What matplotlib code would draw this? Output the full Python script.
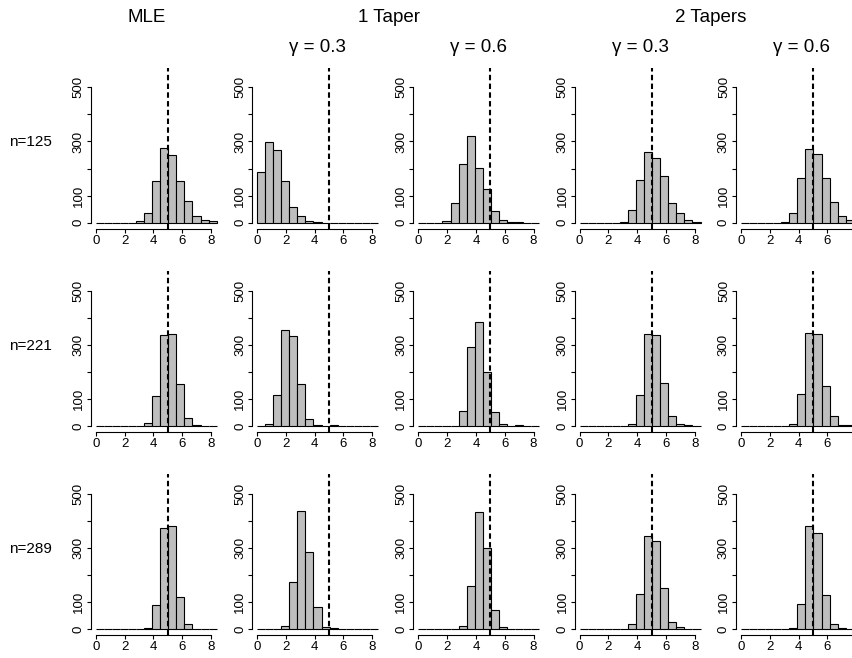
import numpy as np
import matplotlib.pyplot as plt

plt.rcParams['font.family'] = ['Liberation Sans', 'DejaVu Sans']

# histogram breaks: 15 bins from 0 to 8.4
breaks = np.linspace(0, 8.4, 16)
true_value = 5

group_titles = ['MLE', '1 Taper', '2 Tapers']
col_titles = ['', 'γ = 0.3', 'γ = 0.6', 'γ = 0.3', 'γ = 0.6']
row_labels = ['n=125', 'n=221', 'n=289']
x_ticks = [0, 2, 4, 6, 8]
y_ticks = [0, 100, 200, 300, 400, 500]
y_ticklabels = ['0', '100', '', '300', '', '500']

# counts per bin, one list per panel
mle_125  = [0, 0, 0, 0, 0, 5, 36, 154, 277, 249, 155, 79, 23, 10, 5]
t1g3_125 = [186, 297, 270, 155, 57, 25, 8, 2, 0, 0, 0, 0, 0, 0, 0]
t1g6_125 = [0, 0, 0, 6, 73, 218, 321, 201, 126, 42, 11, 4, 1, 0, 0]
t2g3_125 = [0, 0, 0, 0, 0, 4, 46, 156, 262, 240, 171, 73, 37, 10, 2]
t2g6_125 = [0, 0, 0, 0, 0, 4, 37, 164, 271, 254, 164, 75, 26, 9, 2]

mle_221  = [0, 0, 0, 0, 0, 0, 9, 112, 335, 340, 156, 29, 4, 1, 0]
t1g3_221 = [0, 6, 115, 355, 332, 155, 26, 4, 0, 2, 0, 0, 0, 0, 0]
t1g6_221 = [0, 0, 0, 0, 0, 55, 291, 385, 199, 52, 6, 1, 2, 0, 0]
t2g3_221 = [0, 0, 0, 0, 0, 0, 6, 114, 340, 334, 160, 36, 6, 2, 0]
t2g6_221 = [0, 0, 0, 0, 0, 0, 6, 117, 344, 339, 149, 36, 5, 2, 0]

mle_289  = [0, 0, 0, 0, 0, 0, 5, 88, 375, 382, 117, 18, 2, 0, 0]
t1g3_289 = [0, 0, 0, 12, 173, 436, 285, 81, 6, 4, 0, 0, 0, 0, 0]
t1g6_289 = [0, 0, 0, 0, 0, 10, 161, 434, 300, 70, 6, 2, 0, 0, 0]
t2g3_289 = [0, 0, 0, 0, 0, 0, 18, 131, 345, 324, 150, 28, 6, 1, 2]
t2g6_289 = [0, 0, 0, 0, 0, 0, 4, 93, 382, 355, 127, 18, 4, 0, 0]

panels = [
    [mle_125, t1g3_125, t1g6_125, t2g3_125, t2g6_125],
    [mle_221, t1g3_221, t1g6_221, t2g3_221, t2g6_221],
    [mle_289, t1g3_289, t1g6_289, t2g3_289, t2g6_289],
]

W, H = 852, 658
fig = plt.figure(figsize=(W / 100, H / 100), dpi=100)

xlim = (-0.336, 8.736)
ylim = (-22, 572)
xs, ys = 14.4, 0.2707          # pixels per data unit
x0, dx = 95.7, 161.3           # x=0 of first column, column step
y0, dy = 222.7, 203.2          # y=0 of first row, row step

for r in range(3):
    for c in range(5):
        left = x0 + dx * c + xlim[0] * xs
        top = y0 + dy * r - ylim[1] * ys
        w = (xlim[1] - xlim[0]) * xs
        h = (ylim[1] - ylim[0]) * ys
        ax = fig.add_axes([left / W, 1 - (top + h) / H, w / W, h / H])
        ax.bar(breaks[:-1], panels[r][c], width=np.diff(breaks), align='edge',
               color='#bebebe', edgecolor='black', linewidth=0.8)
        ax.axvline(true_value, color='black', lw=1.5, linestyle=(0, (2.6, 1.6)))
        ax.set_xlim(xlim)
        ax.set_ylim(ylim)
        ax.set_xticks(x_ticks)
        if c == 4:
            # right-most column is cut by the page edge, last label not shown
            ax.set_xticklabels([str(v) for v in x_ticks[:-1]] + [''])
        ax.set_yticks(y_ticks)
        ax.set_yticklabels(y_ticklabels)
        for s in ['top', 'right']:
            ax.spines[s].set_visible(False)
        ax.spines['bottom'].set_bounds(0, 8)
        ax.spines['left'].set_bounds(0, 500)
        for s in ['bottom', 'left']:
            ax.spines[s].set_linewidth(0.8)
        ax.tick_params(direction='out', length=2.9, width=0.8, labelsize=9.5, pad=1.5)
        ax.tick_params(axis='y', labelrotation=90)
        for lab in ax.get_yticklabels():
            lab.set_va('center')
        if r == 0 and col_titles[c]:
            fig.text((x0 + dx * c + 4.2 * xs) / W, 1 - 47 / H, col_titles[c],
                     ha='center', va='center', fontsize=13.5)

for t, xp in zip(group_titles, [147, 389, 711]):
    fig.text(xp / W, 1 - 17 / H, t, ha='center', va='center', fontsize=13.5)

for r, lab in enumerate(row_labels):
    fig.text(30 / W, 1 - (142.5 + dy * r) / H, lab, ha='center', va='center', fontsize=11)

fig.savefig('out.png', dpi=100)
